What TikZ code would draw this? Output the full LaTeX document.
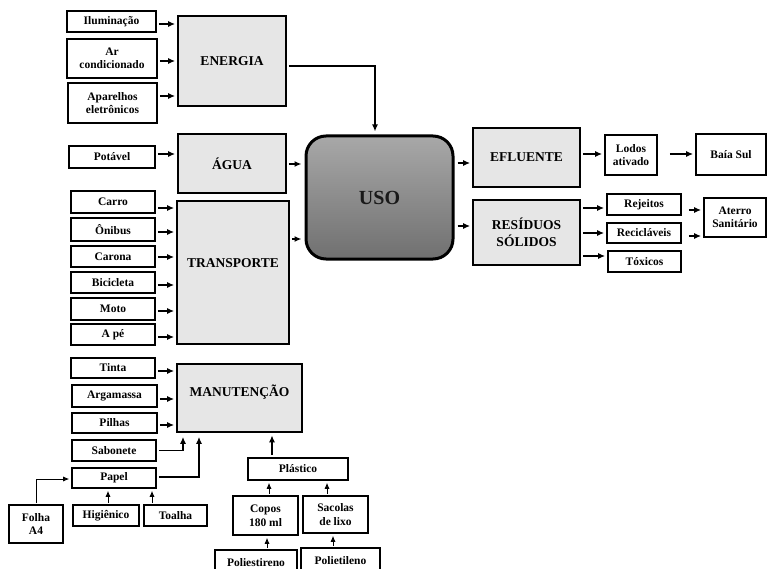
\documentclass[tikz,border=0pt]{standalone}
\usepackage{fontspec}
\setmainfont{Liberation Serif}
\usetikzlibrary{arrows.meta,calc}
\definecolor{boxgray}{RGB}{230,230,230}
\definecolor{usotop}{RGB}{168,168,168}
\definecolor{usobot}{RGB}{112,112,112}
\begin{document}
\begin{tikzpicture}[x=1pt,y=-1pt,
  area/.style n args={4}{minimum width={(#3-#1)*1pt}, minimum height={(#4-#2)*1pt},
    at={({(#1+#3)/2},{(#2+#4)/2})}},
  item/.style={draw, line width=1.6pt, fill=white, inner sep=0pt, align=center,
    font=\fontsize{11.5}{13.5}\selectfont\bfseries},
  group/.style={item, fill=boxgray, font=\fontsize{13.5}{17}\selectfont\bfseries},
  arr/.style={line width=1.4pt, -{Latex[length=7pt,width=6pt]}, shorten <=2pt, shorten >=2pt},
  thinarr/.style={line width=0.8pt, -{Latex[length=6pt,width=5pt]}, shorten <=1pt, shorten >=2pt},
]
\useasboundingbox (0,0) rectangle (767,569);
\clip (0,0) rectangle (767,569);

% --- energy ---
\node[item, area={67}{11}{156}{32}] (ilu) {Iluminação};
\node[item, area={67}{39}{157}{78}] (ar) {Ar\\condicionado};
\node[item, area={68}{83}{157}{123}] (apa) {Aparelhos\\eletrônicos};
\node[group, area={178}{16}{286}{106}] (ene) {ENERGIA};

% --- water ---
\node[item, area={69}{146}{155}{168}] (pot) {Potável};
\node[group, area={178}{134}{286}{193}] (agu) {ÁGUA};

% --- transport ---
\node[item, area={71}{191}{155}{213}] (carro) {Carro};
\node[item, area={71}{218}{155}{241}] (onibus) {Ônibus};
\node[item, area={71}{246}{155}{267}] (carona) {Carona};
\node[item, area={71}{272}{155}{293}] (bici) {Bicicleta};
\node[item, area={71}{298}{155}{320}] (moto) {Moto};
\node[item, area={71}{324}{155}{345}] (ape) {A pé};
\node[group, area={177}{201}{289}{344},
  label={[font=\fontsize{13.5}{17}\selectfont\bfseries, yshift=9.5pt]center:TRANSPORTE}] (tra) {};

% --- maintenance ---
\node[item, area={71}{358}{155}{378}] (tinta) {Tinta};
\node[item, area={72}{385}{157}{407}] (arg) {Argamassa};
\node[item, area={72}{413}{157}{433}] (pil) {Pilhas};
\node[item, area={72}{440}{156}{461}] (sab) {Sabonete};
\node[item, area={72}{468}{156}{488}] (pap) {Papel};
\node[group, area={177}{364}{302}{432},
  label={[font=\fontsize{13.5}{17}\selectfont\bfseries, yshift=6pt]center:MANUTENÇÃO}] (man) {};
\node[item, area={9}{505}{63}{543}] (folha) {Folha\\A4};
\node[item, area={73}{505}{139}{526}] (hig) {Higiênico};
\node[item, area={144}{505}{207}{526}] (toa) {Toalha};
\node[item, area={248}{458}{348}{480}] (pla) {Plástico};
\node[item, area={233}{496}{298}{535}] (copos) {Copos\\180 ml};
\node[item, area={303}{496}{368}{533}] (sac) {Sacolas\\de lixo};
\node[item, area={215}{550}{297}{575}] (polies) {Poliestireno};
\node[item, area={301}{548}{380}{573}] (polie) {Polietileno};

% --- central use ---
\node[draw, line width=3pt, rounded corners=20pt, top color=usotop, bottom color=usobot,
  inner sep=0pt, area={306}{136}{453}{259}, text=black!90,
  font=\fontsize{20}{24}\selectfont\bfseries] (uso) {USO};

% --- outputs ---
\node[group, area={473}{128}{580}{187}] (efl) {EFLUENTE};
\node[group, area={473}{200}{580}{265}] (res) {RESÍDUOS\\SÓLIDOS};
\node[item, area={605}{135}{657}{175}] (lodos) {Lodos\\ativado};
\node[item, area={696}{134}{766}{175}] (baia) {Baía Sul};
\node[item, area={607}{194}{681}{215}] (rej) {Rejeitos};
\node[item, area={607}{223}{681}{243}] (rec) {Recicláveis};
\node[item, area={608}{251}{681}{272}] (tox) {Tóxicos};
\node[item, area={704}{198}{766}{237}] (ate) {Aterro\\Sanitário};

% --- connectors into the groups ---
\draw[arr] ([yshift=-2.5pt]ilu.east) -- ([yshift=-2.5pt]ilu.east -| ene.west);
\draw[arr] ([yshift=-2.5pt]ar.east) -- ([yshift=-2.5pt]ar.east -| ene.west);
\draw[arr] ([yshift=7pt]apa.east) -- ([yshift=7pt]apa.east -| ene.west);
\draw[arr] ([yshift=3pt]pot.east) -- ([yshift=3pt]pot.east -| agu.west);
\draw[arr] ([yshift=-6pt]carro.east) -- ([yshift=-6pt]carro.east -| tra.west);
\draw[arr] ([yshift=-2.5pt]onibus.east) -- ([yshift=-2.5pt]onibus.east -| tra.west);
\draw[arr] ([yshift=-0.5pt]carona.east) -- ([yshift=-0.5pt]carona.east -| tra.west);
\draw[arr] ([yshift=-2.5pt]bici.east) -- ([yshift=-2.5pt]bici.east -| tra.west);
\draw[arr] ([yshift=-2pt]moto.east) -- ([yshift=-2pt]moto.east -| tra.west);
\draw[arr] ([yshift=-2.5pt]ape.east) -- ([yshift=-2.5pt]ape.east -| tra.west);
\draw[arr] ([yshift=-3pt]tinta.east) -- ([yshift=-3pt]tinta.east -| man.west);
\draw[arr] ([yshift=-3pt]arg.east) -- ([yshift=-3pt]arg.east -| man.west);
\draw[arr] ([yshift=-2pt]pil.east) -- ([yshift=-2pt]pil.east -| man.west);
\draw[arr, shorten >=4pt] (sab.east) -| ([xshift=-56.5pt]man.south);
\draw[arr, shorten >=4pt] ([yshift=1pt]pap.east) -| ([xshift=-40.5pt]man.south);
\draw[arr, shorten >=2.5pt] ([xshift=-26pt]pla.north) -- ([xshift=-26pt]pla.north |- man.south);

% --- paper and plastic sources ---
\draw[thinarr] (folha.north) |- ([yshift=-1pt]pap.west);
\draw[thinarr] ([xshift=2pt]hig.north) -- ([xshift=2pt]hig.north |- pap.south);
\draw[thinarr] ([xshift=-23.5pt]toa.north) -- ([xshift=-23.5pt]toa.north |- pap.south);
\draw[thinarr] ([xshift=3.5pt]copos.north) -- ([xshift=3.5pt]copos.north |- pla.south);
\draw[thinarr] ([xshift=-8.5pt]sac.north) -- ([xshift=-8.5pt]sac.north |- pla.south);
\draw[thinarr] ([xshift=11pt]polies.north) -- ([xshift=11pt]polies.north |- copos.south);
\draw[thinarr] ([xshift=-7.5pt]polie.north) -- ([xshift=-7.5pt]polie.north |- sac.south);

% --- into and out of USO ---
\draw[arr, shorten >=3pt] ([yshift=-0.5pt]agu.east) -- ([yshift=-0.5pt]agu.east -| uso.west);
\draw[arr, shorten >=3pt] ([yshift=33.5pt]tra.east) -- ([yshift=33.5pt]tra.east -| uso.west);
\draw[arr, shorten >=3pt] ([yshift=-5pt]ene.east) -| ([xshift=-4.5pt]uso.north);
\draw[arr, shorten <=3pt] ([yshift=34.5pt]uso.east) -- ([yshift=34.5pt]uso.east -| efl.west);
\draw[arr, shorten <=3pt] ([yshift=-28.5pt]uso.east) -- ([yshift=-28.5pt]uso.east -| res.west);

% --- destinations ---
\draw[arr] ([yshift=3.5pt]efl.east) -- ([yshift=3.5pt]efl.east -| lodos.west);
\draw[arr] ([shift={(10pt,1pt)}]lodos.east) -- ([yshift=1pt]lodos.east -| baia.west);
\draw[arr] ([yshift=24.5pt]res.east) -- ([yshift=24.5pt]res.east -| rej.west);
\draw[arr] ([yshift=-0.5pt]res.east) -- ([yshift=-0.5pt]res.east -| rec.west);
\draw[arr] ([yshift=-23.5pt]res.east) -- ([yshift=-23.5pt]res.east -| tox.west);
\draw[arr] ([shift={(5pt,-5.5pt)}]rej.east) -- ([yshift=-5.5pt]rej.east -| ate.west);
\draw[arr] ([shift={(5pt,-3pt)}]rec.east) -- ([yshift=-3pt]rec.east -| ate.west);
\end{tikzpicture}
\end{document}
